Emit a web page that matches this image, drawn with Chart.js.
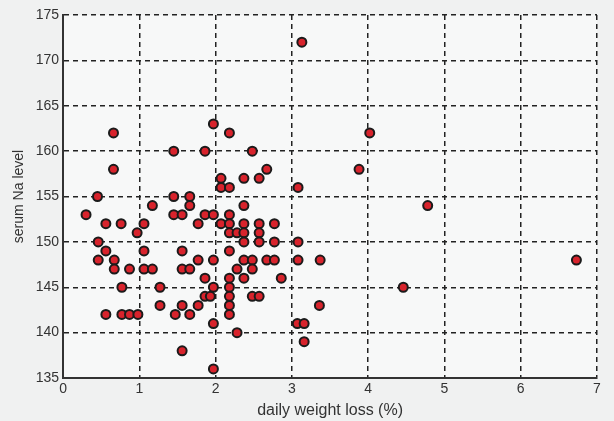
<!DOCTYPE html>
<html>
<head>
<meta charset="utf-8">
<script src="https://cdn.jsdelivr.net/npm/chart.js@4.4.1/dist/chart.umd.min.js"></script>
<style>
  html, body { margin: 0; padding: 0; background: #f0f1f1; }
  #wrap { width: 614px; height: 421px; }
</style>
</head>
<body>
<div id="wrap"><canvas id="scatter"></canvas></div>
<script>
// daily weight loss (%) vs serum Na
const weightLoss = [
  3.13, 0.66, 4.02, 1.97, 2.18, 1.45, 1.86, 2.48, 0.66, 3.88,
  2.67, 2.07, 2.37, 2.57, 2.07, 2.18, 3.08, 0.45, 1.45, 1.66,
  1.17, 1.66, 2.37, 4.78, 0.30, 1.45, 1.56, 1.86, 1.97, 2.18,
  0.56, 0.76, 1.06, 1.77, 2.07, 2.18, 2.37, 2.57, 2.77, 0.97,
  2.18, 2.28, 2.37, 2.57, 0.46, 2.37, 2.57, 2.77, 3.08, 0.56,
  1.06, 1.56, 2.18, 0.46, 0.67, 1.77, 1.97, 2.37, 2.48, 2.67,
  2.77, 3.08, 3.37, 6.73, 0.67, 0.87, 1.06, 1.17, 1.56, 1.66,
  2.28, 2.48, 1.86, 2.18, 2.37, 2.86, 0.77, 1.27, 1.97, 2.18,
  4.46, 1.86, 1.93, 2.18, 2.48, 2.57, 1.27, 1.56, 1.77, 2.18,
  3.36, 0.56, 0.77, 0.87, 0.98, 1.47, 1.66, 2.18, 1.97, 3.07,
  3.16, 2.28, 3.16, 1.56, 1.97
];
const serumNa = [
  172, 162, 162, 163, 162, 160, 160, 160, 158, 158,
  158, 157, 157, 157, 156, 156, 156, 155, 155, 155,
  154, 154, 154, 154, 153, 153, 153, 153, 153, 153,
  152, 152, 152, 152, 152, 152, 152, 152, 152, 151,
  151, 151, 151, 151, 150, 150, 150, 150, 150, 149,
  149, 149, 149, 148, 148, 148, 148, 148, 148, 148,
  148, 148, 148, 148, 147, 147, 147, 147, 147, 147,
  147, 147, 146, 146, 146, 146, 145, 145, 145, 145,
  145, 144, 144, 144, 144, 144, 143, 143, 143, 143,
  143, 142, 142, 142, 142, 142, 142, 142, 141, 141,
  141, 140, 139, 138, 136
];
const xRange = [0, 7];
const yRange = [135, 175];

const points = weightLoss.map((x, i) => ({ x: x, y: serumNa[i] }));

// paint chart area a touch lighter than the page
const plotBg = {
  id: 'plotBg',
  beforeDraw(chart) {
    const { ctx, chartArea: a } = chart;
    ctx.save();
    ctx.fillStyle = '#f7f8f8';
    ctx.fillRect(a.left, a.top, a.right - a.left, a.bottom - a.top);
    ctx.restore();
  }
};

const gridOpts = {
  color: '#222',
  lineWidth: 1.5,
  drawTicks: false
};

new Chart(document.getElementById('scatter'), {
  type: 'scatter',
  data: {
    datasets: [{
      label: 'serum Na',
      data: points,
      backgroundColor: '#d8232c',
      borderColor: '#1b1b1b',
      borderWidth: 2,
      pointRadius: 4.5,
      pointHoverRadius: 4.5
    }]
  },
  options: {
    responsive: true,
    maintainAspectRatio: false,
    animation: false,
    layout: { padding: { left: 11, right: 17, top: 15, bottom: 1 } },
    plugins: {
      legend: { display: false },
      tooltip: { enabled: false }
    },
    scales: {
      x: {
        type: 'linear',
        min: xRange[0],
        max: xRange[1],
        ticks: { stepSize: 1, padding: 3, color: '#333', font: { family: 'Liberation Sans', size: 14 } },
        grid: gridOpts,
        border: { display: true, color: '#333', width: 2, dash: [5, 4] },
        title: {
          display: true,
          text: 'daily weight loss (%)',
          color: '#333',
          padding: { top: 0, bottom: 0 },
          font: { family: 'Liberation Sans', size: 16 }
        }
      },
      y: {
        type: 'linear',
        min: yRange[0],
        max: yRange[1],
        ticks: { stepSize: 5, padding: 4, color: '#333', font: { family: 'Liberation Sans', size: 14 } },
        grid: gridOpts,
        border: { display: true, color: '#333', width: 2, dash: [5, 4] },
        title: {
          display: true,
          text: 'serum Na level',
          color: '#333',
          padding: { top: 0, bottom: 4 },
          font: { family: 'Liberation Sans', size: 14 }
        }
      }
    }
  },
  plugins: [plotBg]
});
</script>
</body>
</html>
